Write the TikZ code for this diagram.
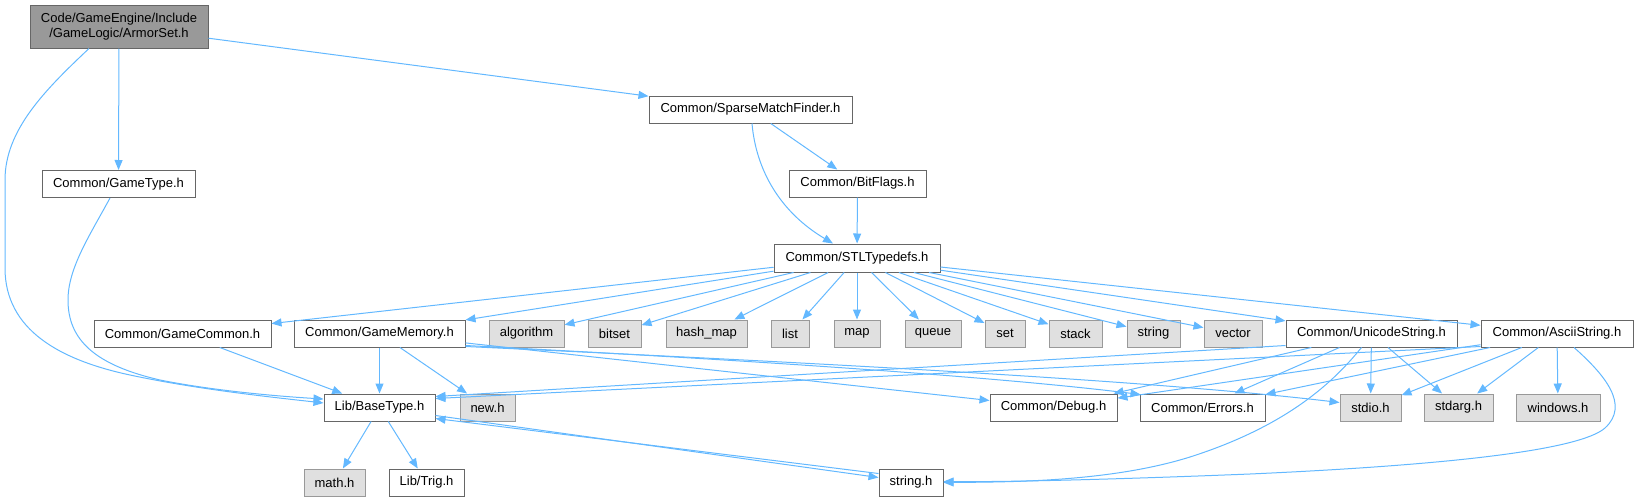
\documentclass[tikz,border=0pt]{standalone}
\usepackage{fontspec}
\setmainfont{Liberation Sans}
\usetikzlibrary{arrows.meta,calc}
\definecolor{edgeblue}{HTML}{63B8FF}
\definecolor{nodeborder}{HTML}{666666}
\definecolor{sysborder}{HTML}{999999}
\definecolor{sysfill}{HTML}{E0E0E0}
\definecolor{rootfill}{HTML}{999999}
\begin{document}
\begin{tikzpicture}[x=1pt,y=-1pt,
  box/.style={draw=nodeborder, fill=white, line width=1pt, rectangle, inner sep=0pt,
    minimum height=27pt, font=\fontsize{13}{15}\selectfont, text=black},
  sysbox/.style={box, draw=sysborder, fill=sysfill},
  rootbox/.style={box, fill=rootfill, align=center, minimum height=43pt},
  edge/.style={draw=edgeblue, line width=1pt, -{Triangle[length=10pt,width=8pt]}}
]
\useasboundingbox (0,0) rectangle (1639,501);
% nodes
\node[rootbox, minimum width=178pt] (root) at (119,26.5) {Code/GameEngine/Include\\/GameLogic/ArmorSet.h};
\node[box, minimum width=153pt] (gametype) at (118.5,184) {Common/GameType.h};
\node[box, minimum width=203pt] (sparse) at (750.5,109.5) {Common/SparseMatchFinder.h};
\node[box, minimum width=137pt] (bitflags) at (857.5,183.5) {Common/BitFlags.h};
\node[box, minimum width=166pt, minimum height=28pt] (stl) at (857,258) {Common/STLTypedefs.h};
% row 2
\node[box, minimum width=177pt] (gamecommon) at (182.5,333.5) {Common/GameCommon.h};
\node[box, minimum width=171pt] (gamememory) at (379.5,333.5) {Common/GameMemory.h};
\node[sysbox, minimum width=75pt] (algorithm) at (526.5,333.5) {algorithm};
\node[sysbox, minimum width=53pt] (bitset) at (614.5,333.5) {bitset};
\node[sysbox, minimum width=81pt] (hashmap) at (706.5,333.5) {hash\_map};
\node[sysbox, minimum width=38pt] (list) at (790,333.5) {list};
\node[sysbox, minimum width=46pt] (map) at (857,333.5) {map};
\node[sysbox, minimum width=56pt] (queue) at (933,333.5) {queue};
\node[sysbox, minimum width=40pt] (set) at (1005,333.5) {set};
\node[sysbox, minimum width=53pt] (stack) at (1075.5,333.5) {stack};
\node[sysbox, minimum width=53pt] (string) at (1153.5,333.5) {string};
\node[sysbox, minimum width=58pt] (vector) at (1233,333.5) {vector};
\node[box, minimum width=171pt] (unicode) at (1371.5,333.5) {Common/UnicodeString.h};
\node[box, minimum width=152pt] (ascii) at (1557,333.5) {Common/AsciiString.h};
% row 3
\node[box, minimum width=111pt] (basetype) at (379.5,407.5) {Lib/BaseType.h};
\node[sysbox, minimum width=55pt] (newh) at (487.5,407.5) {new.h};
\node[box, minimum width=127pt] (debug) at (1053.5,407.5) {Common/Debug.h};
\node[box, minimum width=125pt] (errors) at (1202.5,407.5) {Common/Errors.h};
\node[sysbox, minimum width=61pt] (stdio) at (1370.5,407.5) {stdio.h};
\node[sysbox, minimum width=69pt] (stdarg) at (1458.5,407.5) {stdarg.h};
\node[sysbox, minimum width=84pt] (windows) at (1558,407.5) {windows.h};
% row 4
\node[sysbox, minimum width=61pt] (math) at (334.5,482.5) {math.h};
\node[box, minimum width=75pt] (trig) at (426.5,482.5) {Lib/Trig.h};
\node[box, minimum width=64pt] (stringh) at (911,482.5) {string.h};

% edges
\draw[edge] (root) -- (gametype);
\draw[edge] (root) -- (sparse);
\draw[edge] ($(root.south)+(-30,0)$) .. controls (45,90) and (5,130) .. (5,180)
  -- (5,268) .. controls (5,330) and (60,360) .. (130,375)
  .. controls (200,390) and (280,398) .. ($(basetype.west)+(0,-4.5)$);
\draw[edge] ($(gametype.south)+(-8.5,0)$) .. controls (90,235) and (68,268) .. (68,300)
  .. controls (68,340) and (95,365) .. (160,380)
  .. controls (220,392) and (290,397) .. ($(basetype.west)+(0,-8.5)$);
\draw[edge] (sparse) -- (bitflags);
\draw[edge] ($(sparse.south)+(1.5,0)$) .. controls (756,170) and (780,212) .. ($(stl.north)+(-24,0)$);
\draw[edge] (bitflags) -- (stl);
\foreach \t in {gamecommon,gamememory,algorithm,bitset,hashmap,list,map,queue,set,stack,string,vector,unicode,ascii}
  \draw[edge] (stl) -- (\t);
\draw[edge] (gamecommon) -- (basetype);
\draw[edge] (gamememory) -- (basetype);
\draw[edge] (gamememory) -- (newh);
\draw[edge] (gamememory) -- (debug);
\draw[edge] ($(gamememory.south east)+(0,-2)$) .. controls (750,360) and (1000,377) .. ($(errors.north west)+(1,1)$);
\draw[edge] ($(gamememory.south east)+(0,-1)$) .. controls (800,362) and (1150,380) .. ($(stdio.west)+(0,-5)$);
\draw[edge] ($(unicode.south west)+(0,-2)$) -- ($(basetype.north east)+(0,3)$);
\draw[edge] (unicode) -- (debug);
\draw[edge] (unicode) -- (errors);
\draw[edge] (unicode) -- (stdio);
\draw[edge] (unicode) -- (stdarg);
\draw[edge] ($(unicode.south)+(-10,0)$) .. controls (1335,380) and (1290,425) .. (1190,457)
  .. controls (1110,482) and (1010,482) .. (stringh.east);
\draw[edge] ($(ascii.south west)+(0,-1)$) -- ($(basetype.north east)+(0,5)$);
\draw[edge] (ascii) -- (debug);
\draw[edge] (ascii) -- (errors);
\draw[edge] (ascii) -- (stdio);
\draw[edge] (ascii) -- (stdarg);
\draw[edge] (ascii) -- (windows);
\draw[edge] ($(ascii.south)+(17,0)$) .. controls (1605,375) and (1630,405) .. (1605,428)
  .. controls (1580,450) and (1450,465) .. (1250,474)
  .. controls (1100,480) and (1000,482) .. ($(stringh.east)+(0,-1)$);
\draw[edge] (basetype) -- (math);
\draw[edge] (basetype) -- (trig);
\draw[edge] ($(basetype.east)+(0,8)$) -- ($(stringh.west)+(0,-5)$);
\draw[edge] ($(stringh.west)+(0,-9)$) -- ($(basetype.east)+(0,11)$);
\end{tikzpicture}
\end{document}
